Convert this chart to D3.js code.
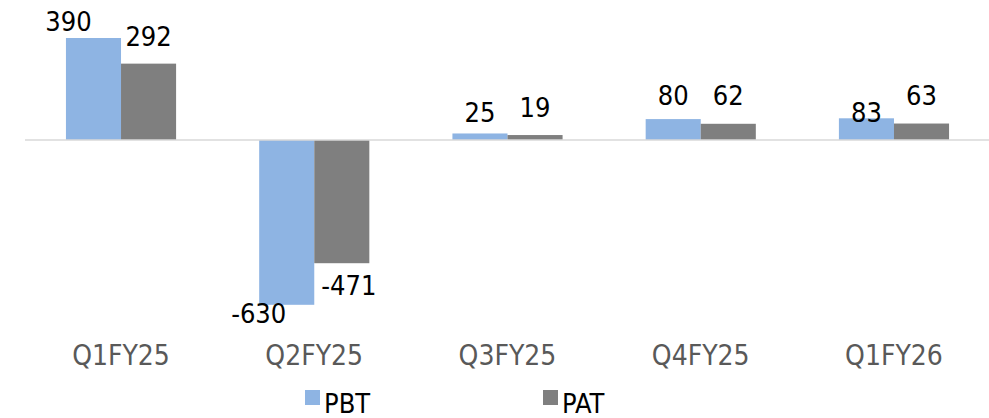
<!DOCTYPE html>
<meta charset="utf-8">
<html>
  <head>
    <script src="https://d3js.org/d3.v7.min.js"></script>
    <style>
      body { margin: 0; background: #fff; }
      text { font-family: "DejaVu Sans Condensed", "DejaVu Sans", sans-serif; }
    </style>
  </head>
  <body>
    <svg id="chart" width="989" height="418"></svg>
    <script>
    const quarters = ["Q1FY25", "Q2FY25", "Q3FY25", "Q4FY25", "Q1FY26"];
    const seriesNames = ["PBT", "PAT"];
    const pbt = [390, -630, 25, 80, 83];
    const pat = [292, -471, 19, 62, 63];
    const colors = ["#8eb4e3", "#7f7f7f"];

    // label nudges (dx, dy) to mimic the spreadsheet's placement
    const nudgePBT = [[-25, 3], [-28, -10], [0, -1.5], [0, -4], [0, 14]];
    const nudgePAT = [[0, -8], [7, 4], [0, -8], [0, -9], [0, -8.5]];

    const svg = d3.select("#chart");

    const x = d3.scaleBand()
        .domain(quarters)
        .range([24.4, 990.6])
        .paddingInner(0.43)
        .paddingOuter(0.215);

    const xs = d3.scaleBand()
        .domain(seriesNames)
        .range([0, x.bandwidth()]);

    const y = d3.scaleLinear()
        .domain([-630, 390])
        .range([304.8, 38]);

    const values = { PBT: pbt, PAT: pat };
    const nudges = { PBT: nudgePBT, PAT: nudgePAT };

    const rows = [];
    quarters.forEach(function(q, i) {
        seriesNames.forEach(function(s, j) {
            rows.push({ q: q, s: s, v: values[s][i], c: colors[j], n: nudges[s][i] });
        });
    });

    // bars
    svg.selectAll("rect.bar")
        .data(rows)
        .enter()
        .append("rect")
        .attr("class", "bar")
        .attr("x", function(d) { return x(d.q) + xs(d.s); })
        .attr("y", function(d) { return y(Math.max(0, d.v)); })
        .attr("width", xs.bandwidth())
        .attr("height", function(d) { return Math.abs(y(d.v) - y(0)); })
        .style("fill", function(d) { return d.c; });

    // zero line
    svg.append("line")
        .attr("x1", 25).attr("x2", 989)
        .attr("y1", y(0)).attr("y2", y(0))
        .style("stroke", "#d9d9d9")
        .style("stroke-width", 1.5);

    // value labels
    svg.selectAll("text.val")
        .data(rows)
        .enter()
        .append("text")
        .attr("class", "val")
        .attr("text-anchor", "middle")
        .attr("x", function(d) { return x(d.q) + xs(d.s) + xs.bandwidth() / 2 + d.n[0]; })
        .attr("y", function(d) { return (d.v >= 0 ? y(d.v) - 10 : y(d.v) + 28) + d.n[1]; })
        .style("font-size", "27px")
        .style("fill", "#000")
        .text(function(d) { return d.v; });

    // category axis
    const xAxis = svg.append("g")
        .attr("transform", "translate(0," + 340 + ")")
        .call(d3.axisBottom(x).tickSize(0).tickPadding(0));
    xAxis.select(".domain").remove();
    xAxis.selectAll("text")
        .attr("dy", "0")
        .attr("y", 25)
        .style("font-size", "28px")
        .style("font-family", "DejaVu Sans Condensed, DejaVu Sans, sans-serif")
        .style("fill", "#595959");

    // legend
    const legendX = [305, 543];
    const legend = svg.selectAll("g.leg")
        .data(seriesNames)
        .enter()
        .append("g")
        .attr("class", "leg")
        .attr("transform", function(d, i) { return "translate(" + legendX[i] + ",0)"; });
    legend.append("rect")
        .attr("x", 0).attr("y", 390)
        .attr("width", 15).attr("height", 15)
        .style("fill", function(d, i) { return colors[i]; });
    legend.append("text")
        .attr("x", 19).attr("y", 413)
        .style("font-size", "27px")
        .style("fill", "#000")
        .text(function(d) { return d; });
    </script>
  </body>
</html>
